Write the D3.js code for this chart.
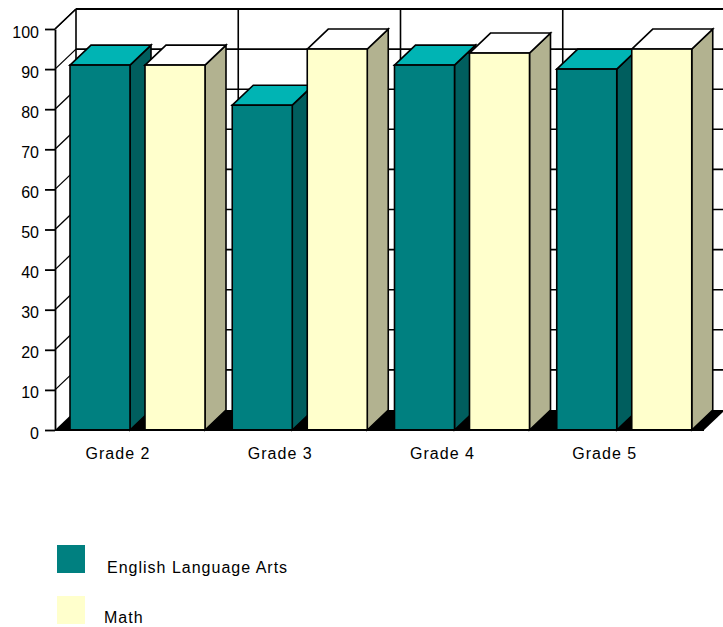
<!DOCTYPE html>
<html><head><meta charset="utf-8">
<script src="https://cdn.jsdelivr.net/npm/d3@7"></script>
<style>body{margin:0;background:#fff}svg{display:block}text{font-family:"Liberation Sans",Arial,sans-serif}</style>
</head><body>
<svg id="c" width="723" height="627"></svg>
<script>
const grades = ["Grade 2","Grade 3","Grade 4","Grade 5"];
const seriesNames = ["English Language Arts","Math"];
const elaValues = [91, 81, 91, 90];
const mathValues = [91, 95, 94, 95];
const yTicks = [0,10,20,30,40,50,60,70,80,90,100];
const colors = {
  "English Language Arts": {front:"#008080", top:"#00B4B4", side:"#005E5E"},
  "Math": {front:"#FFFFCC", top:"#FFFFFF", side:"#B2B290"}
};
const values = {"English Language Arts": elaValues, "Math": mathValues};

const svg = d3.select("#c");
const DX = 21, DY = -20;
const SW = 1.6;
const y = d3.scaleLinear().domain([0,100]).range([430, 29]);
const x = d3.scaleBand().domain(grades).range([55, 704]).padding(0);
const xs = d3.scaleBand().domain(seriesNames).range([15, 150]).paddingInner(0.2);
const x0 = 55, x1 = 704;

// back wall
const g = svg.append("g");
g.append("rect").attr("x", x0+DX).attr("y", y(100)+DY).attr("width", 800).attr("height", y(0)-y(100)).attr("fill","#fff");
yTicks.forEach(t => {
  if (t === 0) return;
  g.append("line").attr("x1", x0+DX).attr("x2", 740).attr("y1", y(t)+DY).attr("y2", y(t)+DY)
    .attr("stroke","#000").attr("stroke-width", t===100?2.2:SW);
});
grades.forEach((d,i) => {
  g.append("line").attr("x1", x(d)+DX).attr("x2", x(d)+DX).attr("y1", y(100)+DY).attr("y2", y(0)+DY)
    .attr("stroke","#000").attr("stroke-width",SW);
});
// left side wall diagonals
yTicks.forEach(t => {
  if (t === 0) return;
  g.append("line").attr("x1", x0).attr("y1", y(t)).attr("x2", x0+DX).attr("y2", y(t)+DY)
    .attr("stroke","#000").attr("stroke-width",1.3);
});
// floor
g.append("path").attr("d", `M${x0},${y(0)} L${x0+DX},${y(0)+DY} L${x1+DX},${y(0)+DY} L${x1},${y(0)} Z`).attr("fill","#000");

// bars
grades.forEach((gr,i) => {
  seriesNames.forEach(s => {
    const v = values[s][i];
    const bx = x(gr) + xs(s), bw = xs.bandwidth();
    const by = y(v), bb = y(0);
    const c = colors[s];
    const bg = svg.append("g").attr("stroke","#000").attr("stroke-width",SW).attr("stroke-linejoin","miter");
    bg.append("path").attr("d", `M${bx+bw},${by} L${bx+bw+DX},${by+DY} L${bx+bw+DX},${bb+DY} L${bx+bw},${bb} Z`).attr("fill", c.side);
    bg.append("path").attr("d", `M${bx},${by} L${bx+DX},${by+DY} L${bx+bw+DX},${by+DY} L${bx+bw},${by} Z`).attr("fill", c.top);
    bg.append("rect").attr("x", bx).attr("y", by).attr("width", bw).attr("height", bb-by).attr("fill", c.front);
  });
});

// front baseline
svg.append("line").attr("x1", x0).attr("x2", x1).attr("y1", y(0)).attr("y2", y(0)).attr("stroke","#000").attr("stroke-width",1.8);

// y axis
const ax = svg.append("g").attr("transform", `translate(${x0},0)`)
  .call(d3.axisLeft(y).tickValues(yTicks).tickSize(10).tickSizeOuter(0).tickPadding(6));
ax.select(".domain").attr("stroke","#000").attr("stroke-width",1.8);
ax.selectAll(".tick line").attr("stroke","#000").attr("stroke-width",1.8);
ax.selectAll(".tick text").attr("font-size",16).attr("font-family","Liberation Sans, Arial, sans-serif").attr("fill","#000").attr("dy","0.5em");
// left wall top edge
svg.append("line").attr("x1", x0).attr("y1", y(100)).attr("x2", x0+DX).attr("y2", y(100)+DY).attr("stroke","#000").attr("stroke-width",1.3);

// category labels
svg.selectAll("text.cat").data(grades).enter().append("text").attr("class","cat")
  .attr("x", d => x(d) + 63).attr("y", 459).attr("text-anchor","middle")
  .attr("font-size",16).attr("letter-spacing","1px").attr("fill","#000").text(d => d);

// legend
const leg = [{name:"English Language Arts", ry:545, tx:107, ty:573},{name:"Math", ry:596, tx:104, ty:623}];
leg.forEach(l => {
  svg.append("rect").attr("x",57).attr("y",l.ry).attr("width",28).attr("height",28).attr("fill",colors[l.name].front);
  svg.append("text").attr("x",l.tx).attr("y",l.ty).attr("font-size",16).attr("letter-spacing","1px").attr("fill","#000").text(l.name);
});
</script>
</body></html>
